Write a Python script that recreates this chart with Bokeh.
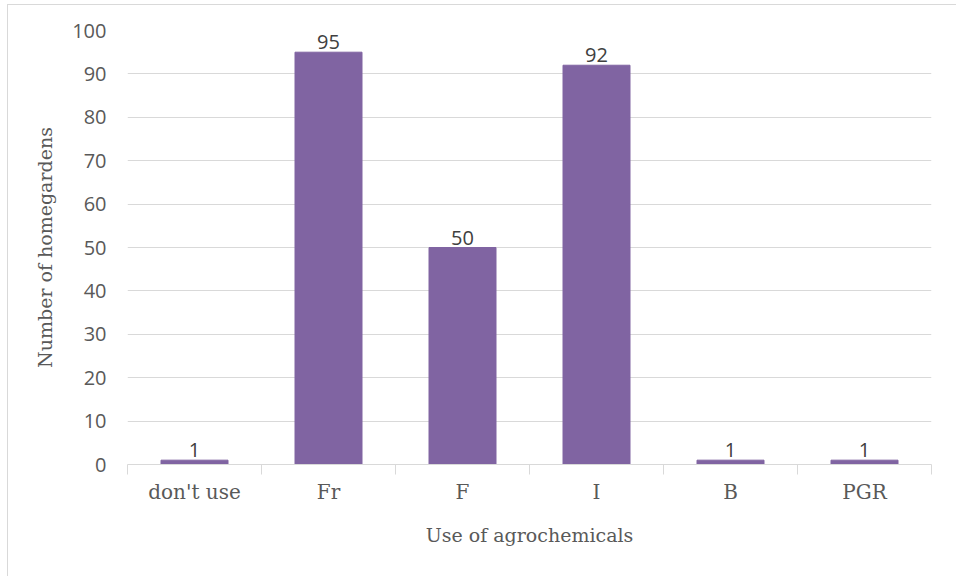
from bokeh.plotting import figure
from bokeh.models import (ColumnDataSource, Range1d, FixedTicker, LabelSet,
                          LinearAxis)
from bokeh.core.properties import value
from bokeh.embed import file_html
from bokeh.resources import INLINE

# Use of agrochemicals across homegardens
categories = ["don't use", "Fr", "F", "I", "B", "PGR"]
counts = [1, 95, 50, 92, 1, 1]
y_ticks = [0, 10, 20, 30, 40, 50, 60, 70, 80, 90, 100]

positions = [i + 0.5 for i in range(len(categories))]
source = ColumnDataSource(dict(x=positions, top=counts,
                               label=[str(c) for c in counts]))

TEXT = "#595959"
GRID = "#d9d9d9"
BAR = "#8064a2"

p = figure(width=949, height=572, output_backend="svg", toolbar_location=None,
           x_range=Range1d(0, len(categories)), y_range=Range1d(0, 100),
           min_border_left=119, min_border_right=26, min_border_top=25,
           min_border_bottom=113, x_axis_location=None, y_axis_location=None)
p.styles = {"border-left": "1px solid #d9d9d9", "border-top": "1px solid #d9d9d9",
            "margin-left": "7px", "margin-top": "4px"}
p.outline_line_color = None
p.background_fill_color = "white"
p.border_fill_color = "white"

# y axis: numbers only, horizontal gridlines
yaxis = LinearAxis(ticker=FixedTicker(ticks=y_ticks))
yaxis.axis_line_color = None
yaxis.major_tick_line_color = None
yaxis.minor_tick_line_color = None
yaxis.major_label_text_font = "Open Sans"
yaxis.major_label_text_font_size = "20px"
yaxis.major_label_text_color = TEXT
yaxis.major_label_standoff = 15
yaxis.axis_label = "Number of homegardens"
yaxis.axis_label_text_font = "DejaVu Serif"
yaxis.axis_label_text_font_size = "19px"
yaxis.axis_label_text_font_style = "normal"
yaxis.axis_label_text_color = TEXT
yaxis.axis_label_standoff = 13
p.add_layout(yaxis, "left")

# x axis: category names at centres, tick marks between categories
xaxis = LinearAxis(ticker=FixedTicker(ticks=positions,
                                      minor_ticks=list(range(len(categories) + 1))))
xaxis.major_label_overrides = {pos: name for pos, name in zip(positions, categories)}
xaxis.axis_line_color = GRID
xaxis.axis_line_width = 1
xaxis.major_tick_line_color = None
xaxis.major_tick_out = 0
xaxis.major_tick_in = 0
xaxis.minor_tick_line_color = GRID
xaxis.minor_tick_out = 10
xaxis.minor_tick_in = 0
xaxis.major_label_text_font = "DejaVu Serif"
xaxis.major_label_text_font_size = "20px"
xaxis.major_label_text_color = TEXT
xaxis.major_label_standoff = 5
xaxis.axis_label = "Use of agrochemicals"
xaxis.axis_label_text_font = "DejaVu Serif"
xaxis.axis_label_text_font_size = "19px"
xaxis.axis_label_text_font_style = "normal"
xaxis.axis_label_text_color = TEXT
xaxis.axis_label_standoff = 17
p.add_layout(xaxis, "below")

p.xgrid.visible = False
p.ygrid.ticker = FixedTicker(ticks=y_ticks[1:])
p.ygrid.grid_line_color = GRID
p.ygrid.grid_line_width = 1

p.vbar(x="x", top="top", width=0.5, source=source, fill_color=BAR,
       line_color=BAR, line_width=1)

labels = LabelSet(x="x", y="top", text="label", source=source,
                  text_align="center", text_baseline="bottom", y_offset=3,
                  text_font=value("Open Sans"), text_font_size=value("20px"),
                  text_color=value("#404040"))
p.add_layout(labels)

open("out.html", "w").write(file_html(p, INLINE))
